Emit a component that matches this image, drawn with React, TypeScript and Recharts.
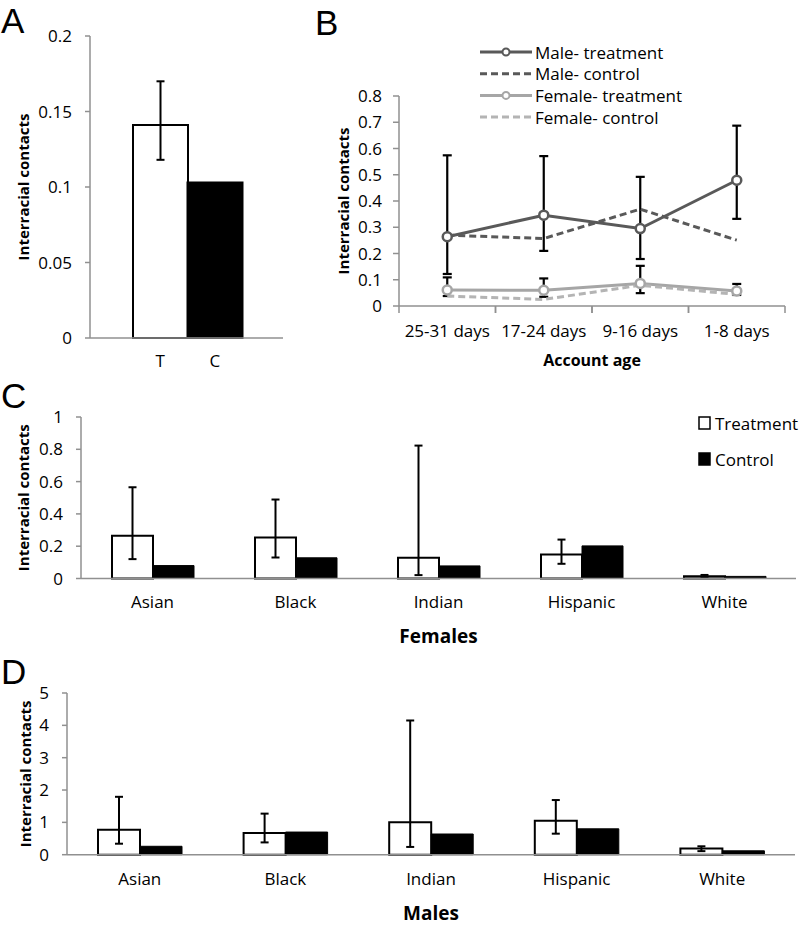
import React from 'react'
import { BarChart, Bar, Cell, LineChart, Line, XAxis, YAxis, ErrorBar, Legend } from 'recharts'

const FONT = '"Open Sans", "Liberation Sans", sans-serif'
const AXIS_GRAY = '#909090'
const DARK = '#595959'
const LIGHT = '#a6a6a6'
const LIGHTER = '#b4b4b4'

// A: overall, treatment vs control
const A_GROUPS = ['T', 'C']
const A_VALUES = [0.141, 0.103]
const A_ERR_LOW = [0.118, null]
const A_ERR_HIGH = [0.170, null]
const A_FILLS = ['#fff', '#000']
const A_TICKS = [0, 0.05, 0.1, 0.15, 0.2]

// B: by account age
const B_AGES = ['25-31 days', '17-24 days', '9-16 days', '1-8 days']
const B_MALE_T = [0.264, 0.346, 0.295, 0.479]
const B_MALE_T_LOW = [0.122, 0.210, 0.179, 0.332]
const B_MALE_T_HIGH = [0.574, 0.571, 0.492, 0.687]
const B_MALE_C = [0.270, 0.257, 0.369, 0.251]
const B_FEMALE_T = [0.061, 0.060, 0.086, 0.057]
const B_FEMALE_T_LOW = [0.038, 0.035, 0.049, 0.042]
const B_FEMALE_T_HIGH = [0.109, 0.105, 0.153, 0.084]
const B_FEMALE_C = [0.038, 0.025, 0.079, 0.044]
const B_TICKS = [0, 0.1, 0.2, 0.3, 0.4, 0.5, 0.6, 0.7, 0.8]

// C / D: by race
const RACES = ['Asian', 'Black', 'Indian', 'Hispanic', 'White']
const F_TREAT = [0.264, 0.254, 0.128, 0.148, 0.014]
const F_TREAT_LOW = [0.120, 0.130, 0.021, 0.091, 0.008]
const F_TREAT_HIGH = [0.565, 0.489, 0.823, 0.241, 0.022]
const F_CTRL = [0.080, 0.128, 0.078, 0.202, 0.013]
const F_TICKS = [0, 0.2, 0.4, 0.6, 0.8, 1]

const M_TREAT = [0.77, 0.67, 1.0, 1.05, 0.19]
const M_TREAT_LOW = [0.34, 0.38, 0.24, 0.65, 0.11]
const M_TREAT_HIGH = [1.79, 1.27, 4.15, 1.69, 0.26]
const M_CTRL = [0.26, 0.70, 0.64, 0.80, 0.12]
const M_TICKS = [0, 1, 2, 3, 4, 5]

const errPair = (v: number, lo: number | null, hi: number | null) =>
  lo == null || hi == null ? null : [v - lo, hi - v]

const aData = A_GROUPS.map((group, i) => ({
  group, value: A_VALUES[i], err: errPair(A_VALUES[i], A_ERR_LOW[i], A_ERR_HIGH[i]),
}))

const bData = B_AGES.map((age, i) => ({
  age,
  maleT: B_MALE_T[i],
  maleErr: errPair(B_MALE_T[i], B_MALE_T_LOW[i], B_MALE_T_HIGH[i]),
  maleC: B_MALE_C[i],
  femaleT: B_FEMALE_T[i],
  femaleErr: errPair(B_FEMALE_T[i], B_FEMALE_T_LOW[i], B_FEMALE_T_HIGH[i]),
  femaleC: B_FEMALE_C[i],
}))

const raceRows = (treat: number[], lo: number[], hi: number[], ctrl: number[]) =>
  RACES.map((race, i) => ({ race, treat: treat[i], ctrl: ctrl[i], err: errPair(treat[i], lo[i], hi[i]) }))

const fData = raceRows(F_TREAT, F_TREAT_LOW, F_TREAT_HIGH, F_CTRL)
const mData = raceRows(M_TREAT, M_TREAT_LOW, M_TREAT_HIGH, M_CTRL)

const B_SERIES = [
  { key: 'maleT', name: 'Male- treatment', color: DARK, dashed: false, marker: true, err: 'maleErr' },
  { key: 'maleC', name: 'Male- control', color: DARK, dashed: true, marker: false, err: '' },
  { key: 'femaleT', name: 'Female- treatment', color: LIGHT, dashed: false, marker: true, err: 'femaleErr' },
  { key: 'femaleC', name: 'Female- control', color: LIGHTER, dashed: true, marker: false, err: '' },
]

const RACE_SERIES = [
  { key: 'treat', name: 'Treatment', fill: '#fff' },
  { key: 'ctrl', name: 'Control', fill: '#000' },
]

const tickStyle = { fontSize: 17, fill: '#000', fontFamily: FONT }
const axisLine = { stroke: AXIS_GRAY, strokeWidth: 1.5 }

// axis titles, placed relative to the axis box
const yTitle = (dist: number) => (props: any) => {
  const vb = props.viewBox || {}
  const x = vb.x + vb.width - dist
  const y = vb.y + vb.height / 2
  return (
    <text x={x} y={y} transform={`rotate(-90 ${x} ${y})`} textAnchor="middle" dominantBaseline="central"
      fontSize={15} fontWeight={700} fill="#000" fontFamily={FONT}>Interracial contacts</text>
  )
}

const xTitle = (text: string, dist: number, size: number) => (props: any) => {
  const vb = props.viewBox || {}
  return (
    <text x={vb.x + vb.width / 2} y={vb.y + dist} textAnchor="middle" dominantBaseline="central"
      fontSize={size} fontWeight={700} fill="#000" fontFamily={FONT}>{text}</text>
  )
}

// B x-axis: tick marks sit on category boundaries
const B_PLOT_W = 386
const B_PAD = B_PLOT_W / B_AGES.length / 2
const B_TICK_SIZE = 7
const B_TICK_MARGIN = 12

const AgeTick = (props: any) => {
  const { x, y, payload } = props
  const axisY = y - B_TICK_MARGIN - B_TICK_SIZE
  return (
    <g>
      <line x1={x - B_PAD} x2={x - B_PAD} y1={axisY} y2={axisY + B_TICK_SIZE} stroke={AXIS_GRAY} strokeWidth={1.5} />
      <line x1={x + B_PAD} x2={x + B_PAD} y1={axisY} y2={axisY + B_TICK_SIZE} stroke={AXIS_GRAY} strokeWidth={1.5} />
      <text x={x} y={y} dy="0.71em" textAnchor="middle" fontSize={17} fill="#000" fontFamily={FONT}>{payload.value}</text>
    </g>
  )
}

const BLegend = () => (
  <svg width={240} height={90} style={{ fontFamily: FONT }}>
    {B_SERIES.map((s, i) => {
      const y = 12 + i * 21.7
      return (
        <g key={s.key}>
          <line x1={2} x2={54} y1={y} y2={y} stroke={s.color} strokeWidth={3} strokeDasharray={s.dashed ? '7 4' : undefined} />
          {s.marker && <circle cx={28} cy={y} r={3.5} fill="#fff" stroke={s.color} strokeWidth={2} />}
          <text x={57} y={y} dominantBaseline="central" fontSize={17} fill="#000">{s.name}</text>
        </g>
      )
    })}
  </svg>
)

const RaceLegend = () => (
  <svg width={110} height={60} style={{ fontFamily: FONT }}>
    {RACE_SERIES.map((s, i) => {
      const y = 13 + i * 36
      return (
        <g key={s.key}>
          <rect x={4} y={y - 6} width={11} height={12} fill={s.fill} stroke="#000" strokeWidth={1.5} />
          <text x={20} y={y} dominantBaseline="central" fontSize={17} fill="#000">{s.name}</text>
        </g>
      )
    })}
  </svg>
)

function RacePanel({ data, ticks, top, height, margin, yWidth, barSize, tickMargin, title, titleDist, yDist, legend }: any) {
  return (
    <div style={{ position: 'absolute', left: 0, top, width: 799, height }}>
      <BarChart width={799} height={height} data={data} margin={margin} barGap={0}>
        <XAxis dataKey="race" interval={0} axisLine={axisLine} tickLine={false} tickSize={0}
          tickMargin={tickMargin} tick={tickStyle} height={height - margin.top - margin.bottom - (ticks === F_TICKS ? 161.5 : 161.7)}
          label={xTitle(title, titleDist, 19)} />
        <YAxis domain={[0, ticks[ticks.length - 1]]} ticks={ticks} width={yWidth} axisLine={axisLine}
          tickLine={{ stroke: AXIS_GRAY, strokeWidth: 1.5 }} tickSize={5} tickMargin={13} tick={tickStyle}
          label={yTitle(yDist)} />
        <Bar dataKey="treat" name="Treatment" fill="#fff" stroke="#000" strokeWidth={2} barSize={barSize} isAnimationActive={false}>
          <ErrorBar dataKey="err" width={4} strokeWidth={2} stroke="#000" />
        </Bar>
        <Bar dataKey="ctrl" name="Control" fill="#000" stroke="#000" strokeWidth={1} barSize={barSize} isAnimationActive={false} />
        {legend && (
          <Legend layout="vertical" align="center" verticalAlign="middle"
            wrapperStyle={{ top: 30, left: 695, width: 110 }} content={RaceLegend} />
        )}
      </BarChart>
    </div>
  )
}

export default function App() {
  return (
    <div style={{ position: 'absolute', left: 0, top: 0, width: 799, height: 926, background: '#fff', fontFamily: FONT, overflow: 'hidden' }}>
      {/* A */}
      <div style={{ position: 'absolute', left: 0, top: 0, width: 290, height: 380 }}>
        <BarChart width={290} height={380} data={aData} margin={{ top: 36, right: 7, bottom: 12, left: 15 }} barCategoryGap={0}>
          <XAxis dataKey="group" interval={0} axisLine={axisLine} tickLine={false} tickSize={0} tickMargin={17}
            tick={tickStyle} padding={{ left: 43, right: 41 }} height={30} />
          <YAxis domain={[0, 0.2]} ticks={A_TICKS} width={75} axisLine={axisLine}
            tickLine={{ stroke: AXIS_GRAY, strokeWidth: 1.5 }} tickSize={5} tickMargin={13} tick={tickStyle}
            label={yTitle(67)} />
          <Bar dataKey="value" stroke="#000" strokeWidth={2} isAnimationActive={false}>
            {aData.map((_, i) => <Cell key={i} fill={A_FILLS[i]} />)}
            <ErrorBar dataKey="err" width={4} strokeWidth={2} stroke="#000" />
          </Bar>
        </BarChart>
      </div>

      {/* B */}
      <div style={{ position: 'absolute', left: 280, top: 0, width: 519, height: 380 }}>
        <LineChart width={519} height={380} data={bData} margin={{ top: 96, right: 14, bottom: 0, left: 44 }}>
          <XAxis dataKey="age" scale="point" interval={0} padding={{ left: B_PAD, right: B_PAD }}
            axisLine={axisLine} tickLine={false} tickSize={B_TICK_SIZE} tickMargin={B_TICK_MARGIN}
            tick={<AgeTick />} height={74} label={xTitle('Account age', 54, 16)} />
          <YAxis domain={[0, 0.8]} ticks={B_TICKS} width={75} axisLine={axisLine}
            tickLine={{ stroke: AXIS_GRAY, strokeWidth: 1.5 }} tickSize={6} tickMargin={11} tick={tickStyle}
            label={yTitle(56)} />
          {B_SERIES.map((s) => (
            <Line key={s.key} type="linear" dataKey={s.key} name={s.name} stroke={s.color} strokeWidth={3}
              strokeDasharray={s.dashed ? '7 4' : undefined}
              dot={s.marker ? { r: 4.5, fill: '#fff', stroke: s.color, strokeWidth: 2.5 } : false}
              activeDot={false} isAnimationActive={false}>
              {s.err && <ErrorBar dataKey={s.err} width={4.5} strokeWidth={2.2} stroke="#000" />}
            </Line>
          ))}
          <Legend layout="vertical" align="center" verticalAlign="middle"
            wrapperStyle={{ top: 40, left: 198, width: 240 }} content={BLegend} />
        </LineChart>
      </div>

      {/* C */}
      <RacePanel data={fData} ticks={F_TICKS} top={380} height={280}
        margin={{ top: 37, right: 3, bottom: 0, left: 6 }} yWidth={75} barSize={41} tickMargin={17}
        title="Females" titleDist={57} yDist={58} legend />

      {/* D */}
      <RacePanel data={mData} ticks={M_TICKS} top={660} height={266}
        margin={{ top: 33, right: 4, bottom: 0, left: 0 }} yWidth={67} barSize={42} tickMargin={18}
        title="Males" titleDist={58} yDist={42} legend={false} />

      {/* panel letters */}
      <svg width={799} height={926} style={{ position: 'absolute', left: 0, top: 0, pointerEvents: 'none' }}>
        <g fontFamily='"Liberation Sans", Arial, sans-serif' fontSize={35} fill="#000">
          <text x={1} y={33}>A</text>
          <text x={315} y={35}>B</text>
          <text x={1} y={408}>C</text>
          <text x={1} y={684}>D</text>
        </g>
      </svg>
    </div>
  )
}
